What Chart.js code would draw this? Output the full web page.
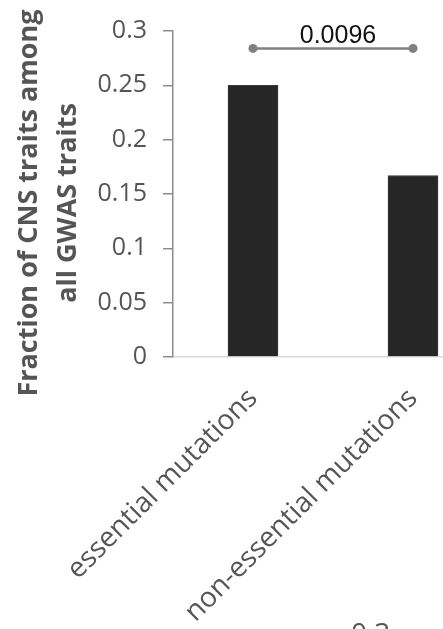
<!DOCTYPE html>
<html>
<head>
<meta charset="utf-8">
<script src="https://cdn.jsdelivr.net/npm/chart.js@4.4.1/dist/chart.umd.min.js"></script>
<style>
  html, body { margin: 0; padding: 0; background: #fff; overflow: hidden; }
  #wrap { position: relative; width: 443px; height: 629px; overflow: hidden; }
  #chart { display: block; }
</style>
</head>
<body>
<div id="wrap"><canvas id="chart" width="520" height="629"></canvas></div>
<script>
// ─── data ────────────────────────────────────────────────────────────────
const categories = ['essential mutations', 'non-essential mutations'];
const fractions = [0.25, 0.167];
const yTickLabels = ['0', '0.05', '0.1', '0.15', '0.2', '0.25', '0.3'];
const bracketLevel = [0.284, 0.284];
const pValueText = '0.0096';
const yTitleLines = ['Fraction of CNS traits among', 'all GWAS traits'];
const edgeText = '0.3';

const GRAY_TEXT = '#555555';
const AXIS_GRAY = '#8c8c8c';

// ─── y title, p-value label, edge text ───────────────────────────────────
const textPlugin = {
  id: 'textPlugin',
  afterDraw(chart) {
    const ctx = chart.ctx;
    const x = chart.scales.x;
    const y = chart.scales.y;

    // rotated y-axis title (two lines)
    ctx.save();
    ctx.fillStyle = GRAY_TEXT;
    ctx.font = "bold 27px 'Open Sans', sans-serif";
    ctx.textAlign = 'center';
    ctx.textBaseline = 'alphabetic';
    const cy = 203;
    [37, 76].forEach(function(bx, i) {
      ctx.save();
      ctx.translate(bx, cy);
      ctx.rotate(-Math.PI / 2);
      ctx.fillText(yTitleLines[i], 0, 0);
      ctx.restore();
    });
    ctx.restore();

    // p-value over the bracket
    ctx.save();
    ctx.fillStyle = '#111';
    ctx.font = "25px 'Liberation Sans', Arial, sans-serif";
    ctx.textAlign = 'center';
    ctx.textBaseline = 'alphabetic';
    const mid = (x.getPixelForValue(0) + x.getPixelForValue(1)) / 2 + 5;
    ctx.fillText(pValueText, mid, y.getPixelForValue(bracketLevel[0]) - 5);
    ctx.restore();

    // tick label of the neighbouring panel peeking in at the bottom
    ctx.save();
    ctx.fillStyle = GRAY_TEXT;
    ctx.font = "28px 'Open Sans', sans-serif";
    ctx.textAlign = 'left';
    ctx.textBaseline = 'alphabetic';
    ctx.fillText(edgeText, 351, 643);
    ctx.restore();
  }
};

const ctx = document.getElementById('chart').getContext('2d');
new Chart(ctx, {
  data: {
    labels: categories,
    datasets: [
      {
        type: 'line',
        data: bracketLevel,
        borderColor: '#808080',
        borderWidth: 2.5,
        pointRadius: 4.5,
        pointBackgroundColor: '#808080',
        pointBorderColor: '#808080',
        pointBorderWidth: 0,
        fill: false,
        order: 0,
      },
      {
        type: 'bar',
        data: fractions,
        backgroundColor: '#262626',
        borderColor: '#3a3a3a',
        borderWidth: 1,
        barThickness: 50,
        order: 1,
      },
    ],
  },
  options: {
    responsive: false,
    animation: false,
    devicePixelRatio: 1,
    layout: { padding: { top: 30, left: 0, right: 27, bottom: 0 } },
    plugins: {
      legend: { display: false },
      tooltip: { enabled: false },
    },
    scales: {
      x: {
        grid: { display: false },
        border: { display: true, color: '#d9d9d9', width: 1.5 },
        ticks: {
          color: GRAY_TEXT,
          font: { family: "'Open Sans', sans-serif", size: 28 },
          minRotation: 45,
          maxRotation: 45,
          padding: 17,
          autoSkip: false,
        },
        afterFit: function(scale) { scale.height = 272; },
      },
      y: {
        min: 0,
        max: 0.3,
        grid: {
          drawOnChartArea: false,
          drawTicks: true,
          tickLength: 10,
          color: AXIS_GRAY,
          lineWidth: 1.5,
        },
        border: { display: true, color: AXIS_GRAY, width: 1.5 },
        ticks: {
          stepSize: 0.05,
          color: GRAY_TEXT,
          padding: 16,
          font: { family: "'Open Sans', sans-serif", size: 25 },
          callback: function(value, index) { return yTickLabels[index]; },
        },
        afterFit: function(scale) { scale.width = 173; },
      },
    },
  },
  plugins: [textPlugin],
});
</script>
</body>
</html>
